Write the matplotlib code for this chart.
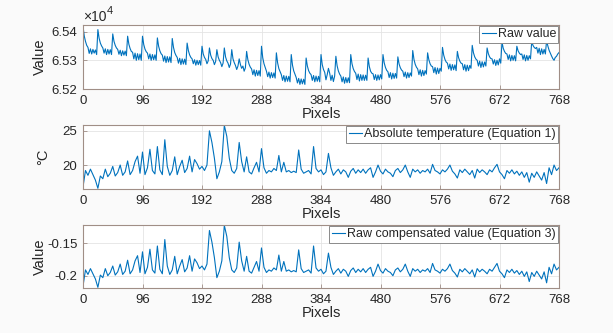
import numpy as np
import matplotlib
matplotlib.use('Agg')
import matplotlib.pyplot as plt
from matplotlib.ticker import FuncFormatter

plt.rcParams['font.family'] = ['Liberation Sans', 'DejaVu Sans']
plt.rcParams['axes.unicode_minus'] = False

# ---------------- data ----------------
# raw value, sampled every 2 pixels (0..768)
raw_value = [
    65419, 65385, 65366, 65352, 65345, 65324, 65340, 65322, 65338, 65325, 65336, 65320,
    65407, 65377, 65360, 65350, 65343, 65325, 65340, 65320, 65338, 65322, 65337, 65320,
    65392, 65366, 65352, 65343, 65338, 65321, 65335, 65316, 65333, 65318, 65332, 65316,
    65384, 65356, 65341, 65331, 65328, 65305, 65325, 65300, 65323, 65302, 65322, 65300,
    65384, 65355, 65339, 65330, 65325, 65305, 65322, 65300, 65320, 65302, 65319, 65300,
    65378, 65349, 65333, 65323, 65318, 65297, 65315, 65292, 65313, 65294, 65312, 65292,
    65376, 65345, 65327, 65317, 65310, 65290, 65307, 65285, 65305, 65287, 65304, 65285,
    65360, 65334, 65319, 65310, 65305, 65288, 65302, 65283, 65300, 65285, 65299, 65283,
    65349, 65322, 65310, 65303, 65288, 65298, 65343, 65318, 65306, 65300, 65285, 65296,
    65337, 65312, 65300, 65292, 65278, 65290, 65343, 65312, 65298, 65290, 65275, 65287,
    65337, 65305, 65292, 65282, 65268, 65280, 65305, 65285, 65272, 65280, 65262, 65274,
    65331, 65302, 65286, 65276, 65270, 65250, 65267, 65245, 65265, 65247, 65264, 65245,
    65349, 65309, 65288, 65275, 65262, 65243, 65259, 65238, 65257, 65240, 65256, 65238,
    65326, 65291, 65271, 65260, 65250, 65230, 65247, 65225, 65245, 65227, 65244, 65225,
    65320, 65283, 65263, 65251, 65240, 65221, 65237, 65216, 65235, 65218, 65234, 65216,
    65308, 65280, 65264, 65255, 65250, 65230, 65247, 65225, 65245, 65227, 65244, 65225,
    65320, 65285, 65268, 65258, 65232, 65250, 65272, 65255, 65230, 65248, 65226, 65245,
    65314, 65281, 65263, 65252, 65245, 65225, 65242, 65220, 65240, 65222, 65239, 65222,
    65320, 65288, 65271, 65261, 65255, 65233, 65252, 65228, 65250, 65230, 65249, 65230,
    65248, 65230, 65308, 65278, 65262, 65255, 65253, 65233, 65250, 65230, 65249, 65232,
    65250, 65235, 65320, 65291, 65275, 65265, 65260, 65240, 65257, 65235, 65255, 65237,
    65254, 65238, 65312, 65287, 65274, 65266, 65262, 65243, 65259, 65238, 65257, 65240,
    65256, 65245, 65334, 65303, 65286, 65276, 65270, 65250, 65267, 65245, 65265, 65247,
    65264, 65252, 65326, 65302, 65288, 65280, 65278, 65257, 65275, 65252, 65273, 65254,
    65272, 65262, 65345, 65318, 65303, 65294, 65290, 65270, 65287, 65265, 65285, 65267,
    65284, 65264, 65331, 65309, 65297, 65290, 65288, 65267, 65285, 65262, 65283, 65264,
    65282, 65272, 65352, 65326, 65312, 65304, 65300, 65280, 65297, 65275, 65295, 65277,
    65294, 65280, 65343, 65323, 65312, 65306, 65305, 65287, 65302, 65282, 65300, 65284,
    65305, 65290, 65364, 65342, 65331, 65324, 65322, 65303, 65319, 65298, 65317, 65300,
    65316, 65298, 65349, 65333, 65325, 65320, 65322, 65303, 65319, 65298, 65317, 65300,
    65316, 65305, 65366, 65352, 65345, 65341, 65345, 65325, 65342, 65320, 65340, 65322,
    65338, 65322, 65369, 65350, 65335, 65325, 65315, 65306, 65300, 65310, 65314, 65322,
    65327,
]

# absolute temperature (deg C), sampled every 4 pixels (0..768)
abs_temperature = [
    16.8, 19.2, 18.5, 19.4, 18.6, 17.8,
    16.6, 18.4, 18.0, 19.4, 18.3, 18.8,
    19.8, 18.4, 18.9, 20.0, 18.5, 19.0,
    20.6, 18.6, 19.2, 20.5, 21.3, 18.8,
    21.9, 18.6, 19.6, 22.3, 19.2, 18.7,
    22.7, 19.3, 18.6, 23.7, 19.8, 18.5,
    19.2, 21.2, 18.6, 19.8, 20.7, 18.9,
    19.5, 21.3, 19.0, 20.8, 20.2, 19.4,
    19.8, 19.2, 20.0, 25.0, 23.3, 21.0,
    18.0, 19.0, 20.5, 25.8, 24.2, 21.0,
    19.2, 18.8, 19.5, 23.3, 20.5, 19.0,
    21.2, 19.0, 18.7, 19.6, 20.4, 19.0,
    22.4, 19.6, 18.8, 19.2, 19.0, 19.5,
    19.2, 21.4, 19.0, 20.4, 19.0, 19.2,
    18.9, 19.1, 18.9, 22.2, 19.4, 18.8,
    19.0, 19.2, 18.7, 22.7, 19.5, 19.0,
    19.3, 18.6, 19.0, 21.7, 19.6, 18.5,
    19.0, 19.4, 18.7, 19.3, 19.0, 18.2,
    19.1, 19.5, 18.8, 19.3, 18.9, 19.4,
    18.8, 19.3, 19.6, 18.2, 19.0, 20.0,
    19.1, 18.7, 19.4, 19.0, 18.8, 18.3,
    19.2, 19.5, 18.9, 19.3, 20.0, 19.0,
    18.2, 19.4, 19.0, 19.3, 18.8, 19.2,
    19.0, 19.4, 18.8, 20.1, 19.2, 19.0,
    18.7, 19.3, 19.0, 19.4, 20.0, 19.1,
    18.7, 18.1, 19.3, 18.9, 19.4, 19.0,
    18.6, 19.2, 18.1, 19.4, 18.9, 19.3,
    19.0, 18.6, 19.3, 19.0, 19.6, 20.1,
    19.0, 18.6, 18.0, 19.2, 18.8, 19.3,
    18.7, 19.1, 18.5, 19.0, 18.2, 18.9,
    17.5, 18.8, 18.2, 19.0, 18.4, 17.8,
    18.9, 17.3, 19.6, 18.6, 20.0, 19.2,
    19.6,
]

# raw compensated value, sampled every 4 pixels (0..768)
compensated_value = [
    -0.216, -0.191, -0.198, -0.189, -0.197, -0.205,
    -0.218, -0.199, -0.203, -0.189, -0.200, -0.195,
    -0.185, -0.199, -0.194, -0.182, -0.198, -0.193,
    -0.176, -0.197, -0.191, -0.177, -0.169, -0.195,
    -0.163, -0.197, -0.187, -0.159, -0.191, -0.196,
    -0.154, -0.190, -0.197, -0.144, -0.185, -0.198,
    -0.191, -0.170, -0.197, -0.185, -0.175, -0.194,
    -0.188, -0.169, -0.193, -0.174, -0.180, -0.189,
    -0.185, -0.191, -0.182, -0.130, -0.148, -0.172,
    -0.203, -0.193, -0.177, -0.122, -0.139, -0.172,
    -0.191, -0.195, -0.188, -0.148, -0.177, -0.193,
    -0.170, -0.193, -0.196, -0.187, -0.178, -0.193,
    -0.157, -0.187, -0.195, -0.191, -0.193, -0.188,
    -0.191, -0.168, -0.193, -0.178, -0.193, -0.191,
    -0.194, -0.192, -0.194, -0.160, -0.189, -0.195,
    -0.193, -0.191, -0.196, -0.154, -0.188, -0.193,
    -0.190, -0.197, -0.193, -0.165, -0.187, -0.198,
    -0.193, -0.189, -0.196, -0.190, -0.193, -0.201,
    -0.192, -0.188, -0.195, -0.190, -0.194, -0.189,
    -0.195, -0.190, -0.187, -0.201, -0.193, -0.182,
    -0.192, -0.196, -0.189, -0.193, -0.195, -0.200,
    -0.191, -0.188, -0.194, -0.190, -0.182, -0.193,
    -0.201, -0.189, -0.193, -0.190, -0.195, -0.191,
    -0.193, -0.189, -0.195, -0.181, -0.191, -0.193,
    -0.196, -0.190, -0.193, -0.189, -0.182, -0.192,
    -0.196, -0.202, -0.190, -0.194, -0.189, -0.193,
    -0.197, -0.191, -0.202, -0.189, -0.194, -0.190,
    -0.193, -0.197, -0.190, -0.193, -0.187, -0.181,
    -0.193, -0.197, -0.203, -0.191, -0.195, -0.190,
    -0.196, -0.192, -0.198, -0.193, -0.201, -0.194,
    -0.209, -0.195, -0.201, -0.193, -0.199, -0.205,
    -0.194, -0.211, -0.187, -0.197, -0.182, -0.191,
    -0.187,
]

x_ticks = [0, 96, 192, 288, 384, 480, 576, 672, 768]
labels = ['Raw value', 'Absolute temperature (Equation 1)',
          'Raw compensated value (Equation 3)']
y_labels = ['Value', '°C', 'Value']

# ---------------- figure ----------------
W, H = 613, 333
fig = plt.figure(figsize=(W / 100, H / 100), dpi=100, facecolor='#fafafa')

left, right = 83, 559
boxes = [(25, 89), (125, 189), (225, 288)]
ylabel_x = [-0.0756, -0.069, -0.0756]
series = [raw_value, abs_temperature, compensated_value]
ylims = [(65200, 65423), (16.5, 25.85), (-0.219, -0.1215)]
yticks = [[65200, 65300, 65400], [20, 25], [-0.2, -0.15]]
fmts = [lambda v, p: f'{v / 1e4:.2f}',
        lambda v, p: f'{v:g}',
        lambda v, p: f'{v:g}']

line_c = '#0072BD'
spine_c = '#a08e86'
text_c = '#262626'

for i, (top, bot) in enumerate(boxes):
    ax = fig.add_axes([left / W, 1 - bot / H, (right - left) / W, (bot - top) / H])
    vals = series[i]
    px = np.linspace(0, 768, len(vals))
    ax.plot(px, vals, color=line_c, lw=0.8, label=labels[i])
    ax.set_xlim(0, 768)
    ax.set_ylim(*ylims[i])
    ax.set_xticks(x_ticks)
    ax.set_yticks(yticks[i])
    ax.yaxis.set_major_formatter(FuncFormatter(fmts[i]))
    ax.grid(True, color='#e4e4e4', lw=0.6)
    ax.set_axisbelow(True)
    ax.set_facecolor('white')
    ax.tick_params(direction='in', length=3, width=0.6, color=spine_c,
                   labelsize=9.5, labelcolor=text_c, pad=4)
    for sp in ax.spines.values():
        sp.set_color(spine_c)
        sp.set_linewidth(0.8)
    ax.set_xlabel('Pixels', fontsize=10.5, color=text_c, labelpad=0)
    ax.set_ylabel(y_labels[i], fontsize=10.5, color=text_c)
    ax.yaxis.set_label_coords(ylabel_x[i], 0.5)
    leg = ax.legend(loc='upper right', fontsize=9, frameon=True, fancybox=False,
                    edgecolor='#8a8a8a', borderaxespad=0.05, handlelength=1.1,
                    handletextpad=0.15, borderpad=0.2, framealpha=1)
    leg.get_frame().set_linewidth(0.7)
    for t in leg.get_texts():
        t.set_color(text_c)
    if i == 0:
        ax.text(0, 1.015, '×10', transform=ax.transAxes, ha='left',
                va='bottom', fontsize=10, color=text_c)
        ax.annotate('4', xy=(0, 1.015), xycoords='axes fraction',
                    xytext=(17.2, 5.5), textcoords='offset points',
                    ha='left', va='bottom', fontsize=8, color=text_c)

fig.savefig('out.png', dpi=100, facecolor=fig.get_facecolor())
